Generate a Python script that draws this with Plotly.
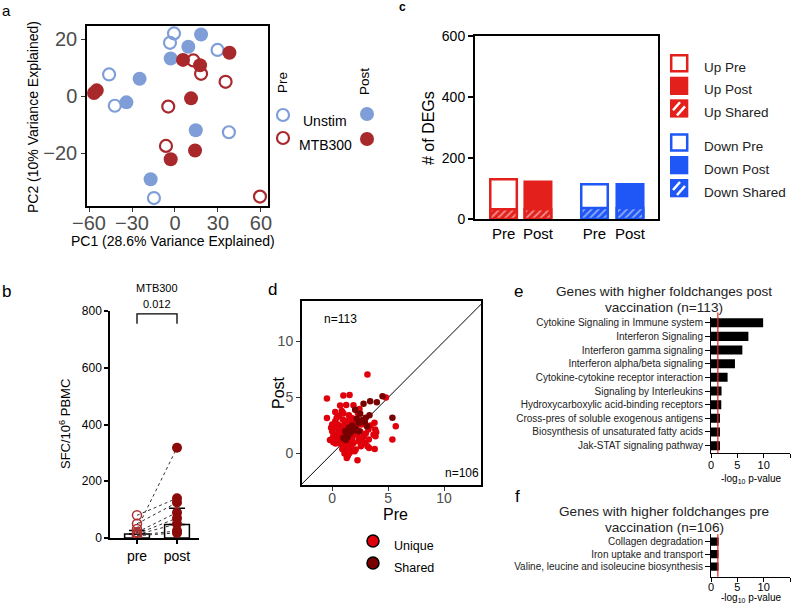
import plotly.graph_objects as go

W, H = 796, 605


def X(px):
    return px / W


def Y(py):
    return 1 - py / H


FONT = "Arial, Liberation Sans, Helvetica, sans-serif"

# ---------------- data ----------------
# panel a : PCA
a_unstim_pre_pc1 = [-0.7, -3.5, -46, -42, 29.7, 37.6, -14.7]
a_unstim_pre_pc2 = [22.1, 18.8, 7.7, -3.3, 16.3, -12.6, -35.7]
a_unstim_post_pc1 = [18.2, 9.3, -3, -24.7, -33.9, 14.5, -17]
a_unstim_post_pc2 = [21.7, 17.4, 13.3, 6.2, -2.1, -11.9, -29.1]
a_mtb_pre_pc1 = [12.8, 18.2, 35.3, -4.7, -6.3, 59.3]
a_mtb_pre_pc2 = [12.6, 7.9, 5.1, -3.6, -17.4, -35.2]
a_mtb_post_pc1 = [-56.5, -54.6, 5.6, 17.5, 38, 11.2, 14, -3]
a_mtb_post_pc2 = [1.2, 2.1, 12.8, 10.9, 15.3, -0.7, -19, -22.1]

# panel b : SFC/10^6 PBMC, MTB300
b_groups = ["pre", "post"]
b_bar = [14, 48]
b_err = [12, 57]
b_pre = [80, 50, 32, 20, 15, 12, 10, 8]
b_post = [140, 125, 318, 90, 70, 50, 25, 18]
b_pvalue = "0.012"

# panel c : number of DEGs
c_labels = ["Pre", "Post", "Pre", "Post"]
c_total = [130, 122, 114, 114]
c_shared = [32, 32, 36, 36]
c_legend = ["Up Pre", "Up Post", "Up Shared", "Down Pre", "Down Post", "Down Shared"]

# panel d : fold changes pre vs post
d_unique_pre = [3.15, -0.47, 1.0, 1.55, 0.71, 1.25, 0.27, 0.86, 4.8, 2.44, 1.49, -0.47, 0.27, 0.95, 1.76,
                5.68, 5.38, 0.0, 0.74, 1.49, 3.42, 3.78, 3.84, 3.24, 3.93, 3.69, 2.5, 1.76, 2.2, 2.8, 3.27,
                3.87, 0.0, 0.3, 0.0, 0.45, 0.86, 1.16, 1.6, 0.86, 0.57, 1.3, 1.16, 1.45, 1.3, 1.55, 1.3,
                2.26, 2.56, 3.15, 3.3, 3.8, 2.1, 1.9, 2.35, 2.95, 0.2, 0.5, 0.6, 0.9, 1.1, 1.3, 0.4, 0.1,
                0.7, 1.0, 1.4, 1.2, 1.5, 1.7, 1.8, 0.3, 0.5, 0.8, 1.0, 1.4, 1.6, 2.0, 2.2, 2.6, 2.4, 2.7,
                3.0, 1.2, 1.4, 1.1, 1.6, 1.35, 0.9, 2.0, -0.1, 0.1, 0.6, 1.0, 1.9, 2.3, -0.2, 0.2, 0.65,
                1.25, 1.75]
d_unique_post = [7.05, 4.9, 5.18, 5.23, 4.29, 4.32, 3.71, 3.8, 5.0, 3.98, 3.41, 3.18, 2.88, 3.03, 3.18,
                 2.44, 1.25, 2.59, 2.44, 2.5, 2.5, 2.74, 2.14, 2.14, 1.9, 1.67, 1.97, 1.55, 1.7, 1.55, 1.25,
                 1.55, 2.0, 1.7, 1.31, 1.1, 1.25, 1.1, 1.25, 1.7, 2.0, 0.8, 0.36, 0.5, -0.1, 0.06, -0.4,
                 -0.6, 0.65, 0.65, 0.5, 0.4, 0.36, 0.95, 1.1, 0.95, 2.3, 2.6, 1.4, 2.1, 2.6, 2.9, 3.2, 1.0,
                 0.9, 0.6, 1.0, 1.5, 1.8, 0.7, 1.4, 0.9, 1.2, 1.6, 1.9, 2.2, 2.7, 2.9, 2.5, 2.6, 1.4, 1.2,
                 1.8, 0.2, -0.2, 0.0, 0.3, 0.6, 0.4, 0.2, 2.3, 1.6, 3.4, 3.6, 4.3, 3.6, 1.2, 1.35, 1.95,
                 2.35, 2.0]
d_shared_pre = [2.05, 2.8, 3.39, 3.99, 4.5, 2.5, 3.33, 5.38, 2.38, 2.92, 3.1, 1.9, 1.6, 1.3, 1.16, 2.2,
                2.7, 1.5, 1.8, 2.1, 1.4, 1.0, 1.2, 2.4, 3.0]
d_shared_post = [3.9, 4.45, 4.66, 4.57, 5.1, 3.54, 3.42, 3.19, 2.74, 2.8, 2.44, 2.05, 1.84, 1.7, 2.0, 3.1,
                 3.0, 2.3, 2.5, 2.2, 1.5, 1.4, 1.2, 2.0, 3.2]
d_n_post = "n=113"
d_n_pre = "n=106"

# panel e / f : pathway enrichment
e_terms = ["Cytokine Signaling in Immune system", "Interferon Signaling", "Interferon gamma signaling",
           "Interferon alpha/beta signaling", "Cytokine-cytokine receptor interaction",
           "Signaling by Interleukins", "Hydroxycarboxylic acid-binding receptors",
           "Cross-pres of soluble exogenous antigens", "Biosynthesis of unsaturated fatty acids",
           "Jak-STAT signaling pathway"]
e_vals = [9.9, 7.1, 5.95, 4.55, 3.15, 2.0, 1.95, 1.7, 1.7, 1.7]
f_terms = ["Collagen degradation", "Iron uptake and transport",
           "Valine, leucine and isoleucine biosynthesis"]
f_vals = [1.45, 1.42, 1.42]
sig_threshold = 1.3

# ---------------- colours ----------------
BLUE_A = "#7f9ed8"
RED_A = "#a8282c"
RED_C = "#e3201b"
BLUE_C = "#1f56f6"
RED_B = "#8b0a0a"
RED_D = "#e0000b"
DARK_D = "#780000"

fig = go.Figure()

# ---------------- panel a ----------------
fig.add_trace(go.Scatter(x=a_unstim_pre_pc1, y=a_unstim_pre_pc2, mode="markers", xaxis="x", yaxis="y",
                         marker=dict(symbol="circle-open", size=12, color=BLUE_A, line=dict(width=2.2))))
fig.add_trace(go.Scatter(x=a_unstim_post_pc1, y=a_unstim_post_pc2, mode="markers", xaxis="x", yaxis="y",
                         marker=dict(symbol="circle", size=14, color=BLUE_A)))
fig.add_trace(go.Scatter(x=a_mtb_post_pc1, y=a_mtb_post_pc2, mode="markers", xaxis="x", yaxis="y",
                         marker=dict(symbol="circle", size=14, color=RED_A)))
fig.add_trace(go.Scatter(x=a_mtb_pre_pc1, y=a_mtb_pre_pc2, mode="markers", xaxis="x", yaxis="y",
                         marker=dict(symbol="circle-open", size=12, color=RED_A, line=dict(width=2.2))))

# ---------------- panel b ----------------
fig.add_trace(go.Bar(x=[0, 1], y=b_bar, width=0.62, xaxis="x2", yaxis="y2",
                     marker=dict(color="white", line=dict(color="black", width=1.5)),
                     error_y=dict(type="data", symmetric=False, array=b_err, arrayminus=[0, 0],
                                  thickness=1.5, width=8, color="black")))
for p0, p1 in zip(b_pre, b_post):
    fig.add_trace(go.Scatter(x=[0, 1], y=[p0, p1], mode="lines", xaxis="x2", yaxis="y2",
                             line=dict(color="#333333", width=1, dash="dot")))
fig.add_trace(go.Scatter(x=[0] * len(b_pre), y=b_pre, mode="markers", xaxis="x2", yaxis="y2",
                         marker=dict(symbol="circle-open", size=9, color="#a83232", line=dict(width=1.5))))
fig.add_trace(go.Scatter(x=[1] * len(b_post), y=b_post, mode="markers", xaxis="x2", yaxis="y2",
                         marker=dict(symbol="circle", size=10, color=RED_B)))

# ---------------- panel c ----------------
c_pos = [1.56, 3.44, 6.53, 8.47]
c_cols = [RED_C, RED_C, BLUE_C, BLUE_C]
c_fill = ["white", RED_C, "white", BLUE_C]
fig.add_trace(go.Bar(x=c_pos, y=c_total, width=1.45, xaxis="x3", yaxis="y3",
                     marker=dict(color=c_fill, line=dict(color=c_cols, width=2.5))))
fig.add_trace(go.Bar(x=c_pos, y=c_shared, width=1.45, xaxis="x3", yaxis="y3",
                     marker=dict(color=c_cols, line=dict(color=c_cols, width=2.5),
                                 pattern=dict(shape="/", fgcolor="white", size=5, solidity=0.35,
                                              fillmode="overlay"))))

# ---------------- panel d ----------------
fig.add_trace(go.Scatter(x=[-5, 20], y=[-5, 20], mode="lines", xaxis="x4", yaxis="y4",
                         line=dict(color="black", width=1)))
fig.add_trace(go.Scatter(x=d_unique_pre, y=d_unique_post, mode="markers", xaxis="x4", yaxis="y4",
                         marker=dict(size=6.5, color=RED_D)))
fig.add_trace(go.Scatter(x=d_shared_pre, y=d_shared_post, mode="markers", xaxis="x4", yaxis="y4",
                         marker=dict(size=6.5, color=DARK_D)))

# ---------------- panel e / f ----------------
fig.add_trace(go.Bar(x=e_vals, y=e_terms, orientation="h", width=0.66, xaxis="x5", yaxis="y5",
                     marker=dict(color="black", line=dict(width=0))))
fig.add_trace(go.Bar(x=f_vals, y=f_terms, orientation="h", width=0.66, xaxis="x6", yaxis="y6",
                     marker=dict(color="black", line=dict(width=0))))

# ---------------- axes ----------------
ggx = dict(showline=True, mirror=True, linecolor="black", linewidth=1.5, ticks="outside", ticklen=4,
           tickcolor="#333333", showgrid=False, zeroline=False,
           tickfont=dict(size=20, color="#4d4d4d", family=FONT))
prism = dict(showline=True, linecolor="black", linewidth=1.5, ticks="outside", ticklen=4,
             tickcolor="black", tickwidth=1.5, showgrid=False, zeroline=False)

layout = dict(
    margin=dict(l=0, r=0, t=0, b=0, autoexpand=False), autosize=True,
    paper_bgcolor="white", plot_bgcolor="white", showlegend=False, barmode="overlay",
    font=dict(family=FONT, color="black"),
    xaxis=dict(ggx, domain=[X(87), X(268)], range=[-61.4, 64.9], tickvals=[-60, -30, 0, 30, 60],
               ticklabelstandoff=-6, anchor="y"),
    yaxis=dict(ggx, domain=[Y(206), Y(26)], range=[-38.5, 24.7], tickvals=[-20, 0, 20], anchor="x"),
    xaxis2=dict(prism, domain=[X(110), X(199)], range=[-0.675, 1.55], tickvals=[0, 1], ticktext=b_groups,
                tickfont=dict(size=14), anchor="y2"),
    yaxis2=dict(prism, domain=[Y(538), Y(311)], range=[0, 800], tickvals=[0, 200, 400, 600, 800],
                tickfont=dict(size=12), anchor="x2"),
    xaxis3=dict(prism, domain=[X(475), X(658)], range=[0, 10], tickvals=c_pos, ticktext=c_labels,
                ticks="", mirror=True, linewidth=2, tickfont=dict(size=15), anchor="y3"),
    yaxis3=dict(prism, domain=[Y(219), Y(36)], range=[0, 600], tickvals=[0, 200, 400, 600], mirror=True,
                linewidth=2, ticklen=5, tickwidth=2, tickfont=dict(size=14), anchor="x3"),
    xaxis4=dict(ggx, domain=[X(302), X(481)], range=[-2.7, 13.3], tickvals=[0, 5, 10], linewidth=2,
                ticklabelstandoff=-5, tickfont=dict(size=14, color="#4d4d4d"), anchor="y4"),
    yaxis4=dict(ggx, domain=[Y(485), Y(301)], range=[-2.8, 13.6], tickvals=[0, 5, 10], linewidth=2,
                tickfont=dict(size=14, color="#4d4d4d"), anchor="x4"),
    xaxis5=dict(prism, domain=[X(711), X(790)], range=[0, 15], tickvals=[0, 5, 10, 15], linewidth=1,
                tickwidth=1, ticklabelstandoff=-3, tickfont=dict(size=11), anchor="y5"),
    yaxis5=dict(prism, domain=[Y(453.3), Y(316.7)], type="category", categoryorder="array",
                categoryarray=e_terms, range=[9.56, -0.44], linewidth=1, tickwidth=1, ticklen=5,
                tickfont=dict(size=10, color="#222222"), anchor="x5"),
    xaxis6=dict(prism, domain=[X(711), X(790)], range=[0, 15], tickvals=[0, 5, 10, 15], linewidth=1,
                tickwidth=1, ticklabelstandoff=-4, tickfont=dict(size=11), anchor="y6"),
    yaxis6=dict(prism, domain=[Y(576.7), Y(534.2)], type="category", categoryorder="array",
                categoryarray=f_terms, range=[2.8, -0.6], linewidth=1, tickwidth=1, ticklen=5,
                tickfont=dict(size=10, color="#222222"), anchor="x6"),
)
fig.update_layout(**layout)

# ---------------- annotations ----------------
anns = []


def ann(text, x, y, size, xanchor="center", angle=0, color="black", yanchor="middle"):
    anns.append(dict(text=text, x=X(x), y=Y(y), xref="paper", yref="paper", showarrow=False,
                     xanchor=xanchor, yanchor=yanchor, textangle=angle,
                     font=dict(size=size, color=color, family=FONT)))


# panel labels
ann("a", 0, 0, 15, "left", yanchor="top")
ann("<b>c</b>", 397, 7, 12, "left")
ann("b", 0, 291, 17, "left")
ann("d", 266, 289, 17, "left")
ann("e", 512, 291, 17, "left")
ann("f", 513, 497, 17, "left")

# panel a
ann("PC1 (28.6% Variance Explained)", 173, 241, 14)
ann("PC2 (10% Variance Explained)", 33, 117, 14, angle=-90)
ann("Pre", 283, 83, 13.5, angle=-90)
ann("Post", 364, 82, 13.5, angle=-90)
ann("Unstim", 325, 121, 14)
ann("MTB300", 325, 145, 14)

# panel b
ann("SFC/10<sup>6</sup> PBMC", 65, 424, 13, angle=-90)
ann("MTB300", 157, 288, 11)
ann(b_pvalue, 157, 304, 11)

# panel c
ann("# of DEGs", 428, 128, 16, angle=-90)
c_text_y = [67.7, 90, 112.7, 146.7, 170, 192.3]
for t, yy in zip(c_legend, c_text_y):
    ann(t, 702, yy, 13.5, "left", color="#222222")

# panel d
ann(d_n_post, 340, 319, 12)
ann(d_n_pre, 462, 473, 12)
ann("Pre", 395, 514, 16)
ann("Post", 278, 393, 16, angle=-90)
ann("Unique", 392, 546, 12.5, "left")
ann("Shared", 392, 568, 12.5, "left")

# panel e / f
ann("Genes with higher foldchanges post", 664, 291, 13.6, color="#222222")
ann("vaccination (n=113)", 664, 307, 13.6, color="#222222")
ann("-log<sub>10</sub> p-value", 751, 479, 10)
ann("Genes with higher foldchanges pre", 664, 511, 13.6, color="#222222")
ann("vaccination (n=106)", 664, 527, 13.6, color="#222222")
ann("-log<sub>10</sub> p-value", 751, 598, 10)

fig.update_layout(annotations=anns)

# ---------------- shapes ----------------
shapes = []


def circle(cx, cy, r, fill, line, lw):
    shapes.append(dict(type="circle", xref="paper", yref="paper", x0=X(cx - r), x1=X(cx + r),
                       y0=Y(cy + r), y1=Y(cy - r), fillcolor=fill, line=dict(color=line, width=lw)))


def rect(x0, y0, x1, y1, fill, line, lw):
    shapes.append(dict(type="rect", xref="paper", yref="paper", x0=X(x0), x1=X(x1), y0=Y(y1), y1=Y(y0),
                       fillcolor=fill, line=dict(color=line, width=lw)))


def seg(x0, y0, x1, y1, color, lw):
    shapes.append(dict(type="line", xref="paper", yref="paper", x0=X(x0), x1=X(x1), y0=Y(y0), y1=Y(y1),
                       line=dict(color=color, width=lw)))


# panel a legend
circle(283, 115, 6, "white", BLUE_A, 2.2)
circle(367, 114, 7, BLUE_A, BLUE_A, 0)
circle(283, 138, 6, "white", RED_A, 2.2)
circle(367, 139, 7, RED_A, RED_A, 0)

# panel c legend
c_sq = [(54, RED_C, "open"), (76.7, RED_C, "fill"), (99.3, RED_C, "hatch"),
        (133.3, BLUE_C, "open"), (156, BLUE_C, "fill"), (179, BLUE_C, "hatch")]
for y0, col, kind in c_sq:
    if kind == "open":
        rect(671.2, y0 + 1.2, 687.2, y0 + 17.2, "white", col, 2.5)
    else:
        rect(670, y0, 688.3, y0 + 18.3, col, col, 0)
    if kind == "hatch":
        seg(673, y0 + 11, 680, y0 + 3, "white", 2.5)
        seg(677, y0 + 16, 685, y0 + 7, "white", 2.5)

# panel b bracket
shapes.append(dict(type="path", xref="x2", yref="y2", path="M 0,755 L 0,790 L 1,790 L 1,755",
                   line=dict(color="black", width=1.3)))

# panel d legend
circle(373, 541, 6, RED_D, "black", 1.5)
circle(373, 563, 6, DARK_D, "black", 1.5)

# significance lines
shapes.append(dict(type="line", xref="x5", yref="y5 domain", x0=sig_threshold, x1=sig_threshold, y0=0,
                   y1=1.03, line=dict(color="#e8231b", width=1.2), layer="above"))
shapes.append(dict(type="line", xref="x6", yref="y6 domain", x0=sig_threshold, x1=sig_threshold, y0=0,
                   y1=1.0, line=dict(color="#e8231b", width=1.2), layer="above"))

fig.update_layout(shapes=shapes)

fig.write_html("out.html", config={"displayModeBar": False},
               default_width="796px; position:absolute; left:0px; top:0px",
               default_height="605px")
